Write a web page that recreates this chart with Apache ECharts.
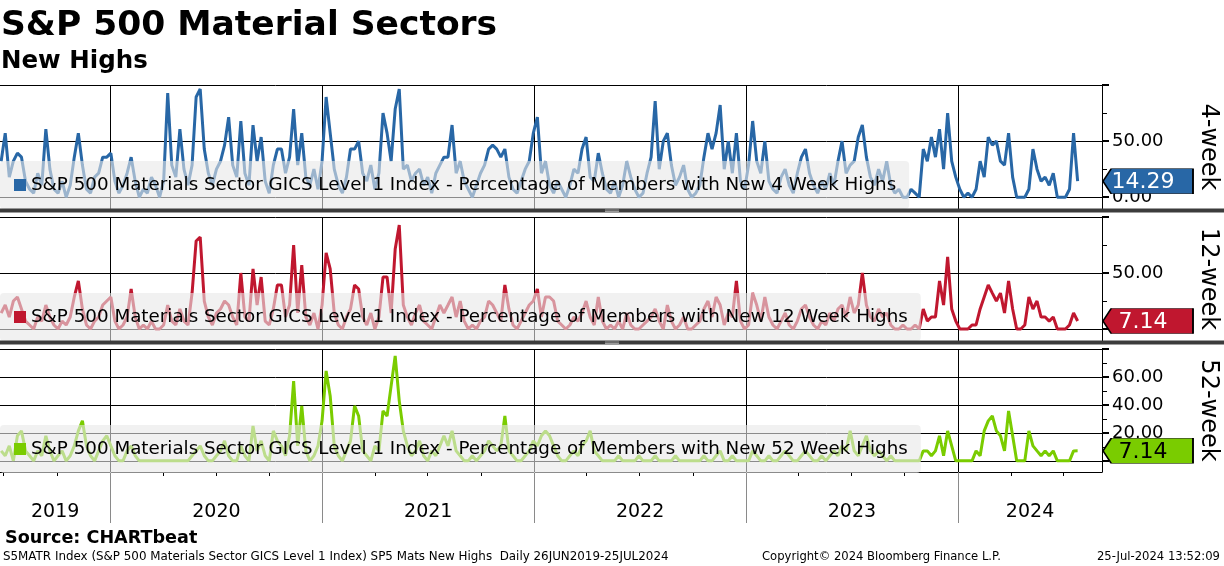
<!DOCTYPE html>
<html>
<head>
<meta charset="utf-8">
<script src="https://cdn.jsdelivr.net/npm/echarts@6/dist/echarts.min.js"></script>
<style>
html,body{margin:0;padding:0;background:#fff;}
#chart{width:1224px;height:566px;}
</style>
</head>
<body>
<div id="chart"></div>
<script>
// ---------------- DATA ----------------
const firstDate = '2019-06-27';      // weekly observations, one every 7 days
const newHighs4w = [
32.1,57.1,17.9,32.1,39.3,35.7,14.3,7.1,3.6,21.4,
10.7,60.7,25,7.1,3.6,14.3,0,10.7,35.7,57.1,
28.6,7.1,3.6,17.9,21.4,35.7,35.7,39.3,14.3,3.6,
10.7,21.4,35.7,14.3,0,7.1,3.6,17.9,10.7,0,
14.3,92.9,28.6,17.9,60.7,25,10.7,28.6,89.3,96.4,
42.9,21.4,10.7,25,32.1,46.4,71.4,28.6,17.9,67.9,
21.4,10.7,64.3,32.1,53.6,14.3,3.6,28.6,42.9,42.9,
21.4,35.7,78.6,28.6,57.1,17.9,10.7,25,7.1,32.1,
89.3,57.1,25,10.7,3.6,17.9,42.9,42.9,50,21.4,
14.3,28.6,7.1,21.4,75,57.1,32.1,78.6,96.4,25,
28.6,14.3,21.4,25,10.7,17.9,3.6,21.4,28.6,35.7,
35.7,64.3,21.4,32.1,14.3,7.1,0,10.7,21.4,28.6,
42.9,46.4,42.9,35.7,42.9,17.9,7.1,3.6,14.3,25,
32.1,57.1,71.4,21.4,32.1,10.7,3.6,14.3,7.1,0,
10.7,25,21.4,42.9,53.6,17.9,14.3,39.3,21.4,7.1,
3.6,14.3,0,10.7,32.1,17.9,7.1,0,3.6,21.4,
35.7,85.7,25,50,57.1,28.6,10.7,17.9,28.6,7.1,
0,3.6,10.7,35.7,57.1,42.9,57.1,82.1,25,50,
21.4,57.1,14.3,7.1,28.6,67.9,32.1,21.4,50,14.3,
7.1,3.6,17.9,25,10.7,3.6,21.4,35.7,42.9,21.4,
10.7,3.6,14.3,7.1,21.4,10.7,32.1,50,21.4,28.6,
32.1,53.6,64.3,35.7,17.9,10.7,25,14.3,32.1,10.7,
3.6,7.1,0,0,7.1,3.6,0,42.9,32.1,53.6,
35.7,60.7,25,75,32.1,17.9,7.1,0,3.6,0,
7.1,32.1,17.9,53.6,46.4,50,32.1,28.6,57.1,17.9,
0,0,0,7.1,42.9,25,14.3,17.9,10.7,21.4,
0,0,0,7.1,57.1,14.29
];
const newHighs12w = [
14.3,21.4,10.7,25,28.6,17.9,7.1,3.6,0,10.7,
7.1,21.4,10.7,3.6,0,7.1,3.6,10.7,28.6,42.9,
17.9,3.6,0,7.1,10.7,21.4,25,28.6,7.1,0,
3.6,10.7,35.7,10.7,0,3.6,0,7.1,0,0,
3.6,21.4,7.1,3.6,17.9,7.1,3.6,32.1,78.6,82.1,
25,10.7,3.6,14.3,17.9,25,21.4,10.7,3.6,50,
10.7,7.1,53.6,21.4,46.4,7.1,3.6,17.9,39.3,39.3,
10.7,21.4,75,14.3,57.1,10.7,3.6,14.3,0,21.4,
67.9,53.6,14.3,3.6,0,10.7,17.9,39.3,35.7,10.7,
3.6,14.3,0,10.7,46.4,46.4,14.3,71.4,92.9,21.4,
10.7,3.6,14.3,21.4,7.1,3.6,0,10.7,21.4,14.3,
21.4,28.6,10.7,25,7.1,0,3.6,0,7.1,10.7,
25,21.4,14.3,7.1,39.3,17.9,3.6,0,7.1,14.3,
21.4,25,35.7,10.7,28.6,28.6,25,7.1,3.6,0,
3.6,10.7,7.1,14.3,25,10.7,3.6,28.6,7.1,0,
3.6,0,7.1,0,14.3,3.6,0,0,3.6,7.1,
10.7,17.9,7.1,0,21.4,7.1,0,3.6,10.7,0,
0,3.6,7.1,17.9,25,10.7,28.6,21.4,3.6,14.3,
10.7,42.9,7.1,0,3.6,32.1,21.4,7.1,28.6,10.7,
3.6,0,7.1,14.3,3.6,0,7.1,17.9,21.4,10.7,
3.6,0,7.1,3.6,14.3,7.1,17.9,21.4,10.7,28.6,
14.3,21.4,50,21.4,10.7,7.1,17.9,10.7,14.3,3.6,
0,0,3.6,0,0,3.6,0,17.9,7.1,10.7,
10.7,42.9,21.4,64.3,17.9,7.1,0,0,0,3.6,
3.6,17.9,28.6,39.3,32.1,25,32.1,14.3,42.9,17.9,
0,0,3.6,28.6,17.9,25,10.7,10.7,7.1,10.7,
0,0,0,3.6,14.3,7.14
];
const newHighs52w = [
7.1,3.6,10.7,0,17.9,21.4,7.1,3.6,0,7.1,
3.6,17.9,7.1,0,3.6,7.1,0,3.6,10.7,21.4,
28.6,10.7,3.6,0,7.1,14.3,17.9,10.7,3.6,0,
0,7.1,10.7,3.6,0,0,0,0,0,0,
0,0,0,0,0,0,0,3.6,7.1,10.7,
3.6,0,0,3.6,7.1,14.3,3.6,0,0,10.7,
3.6,0,25,7.1,14.3,3.6,0,21.4,14.3,10.7,
3.6,17.9,57.1,10.7,39.3,7.1,0,3.6,10.7,28.6,
64.3,46.4,10.7,3.6,0,7.1,14.3,39.3,32.1,7.1,
3.6,0,10.7,7.1,35.7,32.1,53.6,75,42.9,21.4,
10.7,3.6,7.1,14.3,3.6,0,7.1,3.6,10.7,17.9,
10.7,21.4,7.1,3.6,0,0,3.6,0,3.6,7.1,
14.3,10.7,7.1,10.7,32.1,7.1,3.6,0,0,3.6,
7.1,14.3,10.7,17.9,21.4,17.9,10.7,3.6,0,0,
3.6,7.1,3.6,10.7,14.3,21.4,7.1,3.6,0,0,
0,0,3.6,0,0,0,0,3.6,0,0,
0,3.6,0,0,0,0,3.6,0,0,0,
0,0,0,3.6,0,0,3.6,7.1,0,0,
3.6,0,0,0,0,7.1,3.6,0,0,3.6,
0,0,3.6,7.1,3.6,0,0,3.6,7.1,3.6,
0,0,3.6,0,3.6,7.1,3.6,10.7,7.1,21.4,
7.1,3.6,10.7,17.9,7.1,3.6,7.1,3.6,0,3.6,
0,0,0,0,0,0,0,7.1,7.1,3.6,
7.1,17.9,3.6,21.4,10.7,0,0,0,0,0,
7.1,3.6,21.4,28.6,32.1,21.4,17.9,7.1,35.7,17.9,
0,0,0,21.4,10.7,7.1,3.6,7.1,3.6,7.1,
0,0,0,0,7.1,7.14
];
const seriesNames = [
  'S&P 500 Materials Sector GICS Level 1 Index - Percentage of Members with New 4 Week Highs',
  'S&P 500 Materials Sector GICS Level 1 Index - Percentage of Members with New 12 Week Highs',
  'S&P 500 Materials Sector GICS Level 1 Index - Percentage of Members with New 52 Week Highs'
];
const panelNames = ['4-week', '12-week', '52-week'];
const xRange = ['2019-06-25', '2024-09-05'];
const yearStarts = ['2020-01-01', '2021-01-01', '2022-01-01', '2023-01-01', '2024-01-01'];
const yearLabels = ['2019', '2020', '2021', '2022', '2023', '2024'];
const yearLabelAt = ['2019-09-28', '2020-07-02', '2021-07-02', '2022-07-02', '2023-07-02', '2024-05-04'];
const quarterStarts = ['2019-07-01', '2019-10-01', '2020-04-01', '2020-07-01', '2020-10-01',
  '2021-04-01', '2021-07-01', '2021-10-01', '2022-04-01', '2022-07-01', '2022-10-01',
  '2023-04-01', '2023-07-01', '2023-10-01', '2024-04-01', '2024-07-01'];
const yRanges = [[-10.5, 100], [-10.7, 100], [-8, 80]];
const yMajorTicks = [[0, 50, 100], [0, 50, 100], [0, 20, 40, 60, 80]];
const yMinorTicks = [[25, 75], [25, 75], [10, 30, 50, 70]];
const yTickLabels = [[0, 50], [50], [20, 40, 60]];
const titleText = 'S&P 500 Material Sectors';
const subtitleText = 'New Highs';
const sourceText = 'Source: CHARTbeat';
const footerLeft = 'S5MATR Index (S&P 500 Materials Sector GICS Level 1 Index) SP5 Mats New Highs  Daily 26JUN2019-25JUL2024';
const footerMid = 'Copyright\u00A9 2024 Bloomberg Finance L.P.';
const footerRight = '25-Jul-2024 13:52:09';

// ---------------- STYLE ----------------
const FONT = 'DejaVu Sans';
const colors = ['#2867a6', '#c0172f', '#7acc00'];
const tagText = ['#ffffff', '#ffffff', '#000000'];
const gridTops = [85, 217, 349];
const gridHeights = [124, 124, 123];
const legendTops = [161, 293, 425];

const ts = s => new Date(s + 'T00:00:00').getTime();
const DAY = 86400000;
const t0 = ts(firstDate);
const toPairs = arr => arr.map((v, i) => [t0 + i * 7 * DAY, v]);
const allData = [newHighs4w, newHighs12w, newHighs52w];
const xMin = ts(xRange[0]), xMax = ts(xRange[1]);
const yearTs = yearStarts.map(ts);
const yearLabelTs = yearLabelAt.map(ts);
const quarterTs = quarterStarts.map(ts);

const grids = [0, 1, 2].map(k => ({
  left: 0, right: 122, top: gridTops[k], height: gridHeights[k],
  containLabel: false, outerBoundsMode: 'none'
}));

const xAxes = [0, 1, 2].map(k => ({
  type: 'value', gridIndex: k, min: xMin, max: xMax, scale: true,
  axisLine: { show: k === 2, onZero: false, lineStyle: { color: '#000', width: 1 } },
  axisTick: { show: k === 2, customValues: yearTs, length: 51, lineStyle: { color: '#8a8a8a', width: 1 } },
  axisLabel: k === 2 ? {
    show: true, customValues: yearLabelTs, margin: 31,
    fontFamily: FONT, fontSize: 19, color: '#000',
    formatter: v => { const i = yearLabelTs.indexOf(v); return i >= 0 ? yearLabels[i] : ''; }
  } : { show: false },
  splitLine: { show: true, lineStyle: { color: '#000', width: 1 } }
}));
xAxes.push({
  type: 'value', gridIndex: 2, min: xMin, max: xMax, scale: true, position: 'bottom',
  axisLine: { show: false, onZero: false },
  axisTick: { show: true, customValues: quarterTs, length: 4, lineStyle: { color: '#000', width: 1 } },
  axisLabel: { show: false }, splitLine: { show: false }
});

const yAxes = [0, 1, 2].map(k => ({
  type: 'value', gridIndex: k, position: 'right', min: yRanges[k][0], max: yRanges[k][1],
  name: panelNames[k], nameLocation: 'middle', nameRotate: -90, nameGap: 94,
  nameTextStyle: { fontFamily: FONT, fontSize: 24, color: '#000' },
  axisLine: { show: true, onZero: false, lineStyle: { color: '#000', width: 1 } },
  axisTick: { show: true, customValues: yMajorTicks[k], length: 7, lineStyle: { color: '#000', width: 2 } },
  axisLabel: { show: true, customValues: yTickLabels[k], margin: 10, fontFamily: FONT, fontSize: 18, color: '#000',
    formatter: v => Number(v).toFixed(2) },
  splitLine: { show: true, lineStyle: { color: '#000', width: 1 } }
}));
[0, 1, 2].forEach(k => yAxes.push({
  type: 'value', gridIndex: k, position: 'right', min: yRanges[k][0], max: yRanges[k][1],
  axisLine: { show: false, onZero: false },
  axisTick: { show: true, customValues: yMinorTicks[k], length: 5, lineStyle: { color: '#000', width: 1 } },
  axisLabel: { show: false }, splitLine: { show: false }
}));

const series = [0, 1, 2].map(k => {
  const d = allData[k];
  const last = d[d.length - 1];
  return {
    name: seriesNames[k], type: 'line', xAxisIndex: k, yAxisIndex: k,
    data: toPairs(d), showSymbol: false, symbol: 'none',
    lineStyle: { color: colors[k], width: 3 }, itemStyle: { color: colors[k] },
    emphasis: { disabled: true }, silent: true, animation: false,
    markPoint: {
      silent: true, animation: false,
      symbol: 'path://M0,10 L8,0 L88,0 L88,20 L8,20 Z', symbolKeepAspect: false,
      symbolSize: [90, 25], symbolOffset: [46, 0],
      itemStyle: { color: colors[k], borderColor: '#000', borderWidth: 1 },
      label: { show: true, position: 'inside', formatter: last.toFixed(2), color: tagText[k],
        fontFamily: FONT, fontSize: 22, offset: [-5, 1] },
      data: [{ coord: [xMax, last], value: last }]
    }
  };
});

const legends = [0, 1, 2].map(k => ({
  data: [seriesNames[k]], left: 0, top: legendTops[k], orient: 'horizontal',
  icon: 'rect', itemWidth: 12, itemHeight: 12, itemGap: 0,
  padding: [15, 13, 15, 14], backgroundColor: 'rgba(232,232,232,0.6)', borderRadius: 4,
  textStyle: { fontFamily: FONT, fontSize: 18.3, color: '#000' },
  selectedMode: false, z: 10
}));

const graphics = [];
[208.5, 340.5].forEach(y => {
  graphics.push({ type: 'rect', z: 100, silent: true, shape: { x: 0, y: y, width: 1224, height: 4 }, style: { fill: '#3c3c3c' } });
  graphics.push({ type: 'line', z: 101, silent: true, shape: { x1: 605, y1: y + 1.5, x2: 619, y2: y + 1.5 }, style: { stroke: '#9a9a9a', lineWidth: 1 } });
  graphics.push({ type: 'line', z: 101, silent: true, shape: { x1: 605, y1: y + 3, x2: 619, y2: y + 3 }, style: { stroke: '#9a9a9a', lineWidth: 1 } });
});
graphics.push({ type: 'text', z: 100, left: 1, top: 9, style: { text: titleText, font: 'bold 34.5px "DejaVu Sans"', fill: '#000' } });
graphics.push({ type: 'text', z: 100, left: 1, top: 49, style: { text: subtitleText, font: 'bold 24.5px "DejaVu Sans"', fill: '#000' } });
graphics.push({ type: 'text', z: 100, left: 5, top: 529, style: { text: sourceText, font: 'bold 17.6px "DejaVu Sans"', fill: '#000' } });
graphics.push({ type: 'text', z: 100, left: 3, top: 551, style: { text: footerLeft, font: '11.9px "DejaVu Sans"', fill: '#000' } });
graphics.push({ type: 'text', z: 100, left: 762, top: 551, style: { text: footerMid, font: '11.6px "DejaVu Sans"', fill: '#000' } });
graphics.push({ type: 'text', z: 100, right: 4, top: 551, style: { text: footerRight, font: '11.6px "DejaVu Sans"', fill: '#000' } });

const chart = echarts.init(document.getElementById('chart'));
chart.setOption({
  animation: false,
  backgroundColor: '#ffffff',
  grid: grids,
  xAxis: xAxes,
  yAxis: yAxes,
  legend: legends,
  series: series,
  graphic: graphics
});
</script>
</body>
</html>
